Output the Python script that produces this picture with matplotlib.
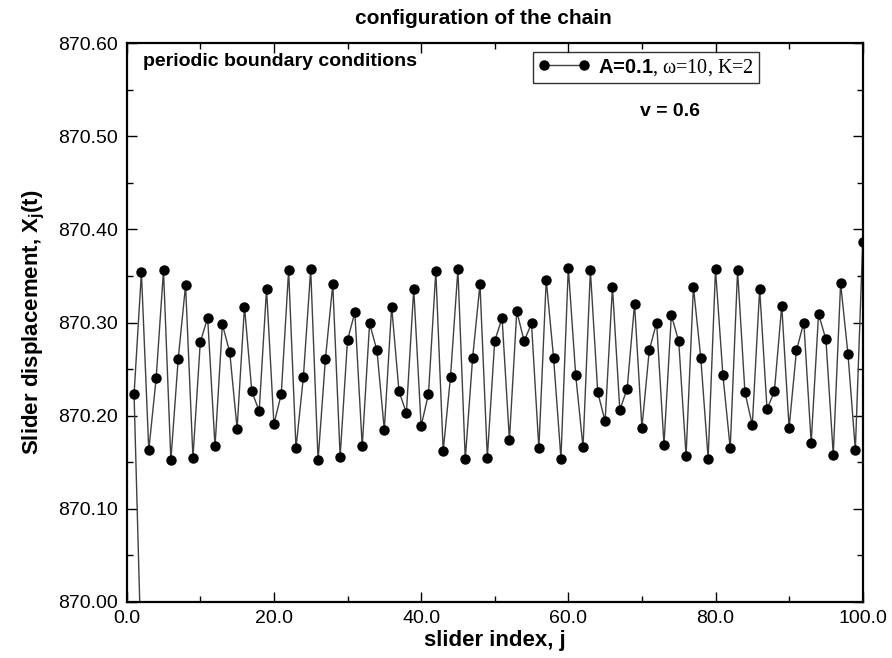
import numpy as np
import matplotlib
matplotlib.use('Agg')
import matplotlib.pyplot as plt
from matplotlib.ticker import MultipleLocator, FormatStrFormatter

plt.rcParams['font.family'] = ['Liberation Sans', 'DejaVu Sans']
plt.rcParams['mathtext.fontset'] = 'custom'
plt.rcParams['mathtext.bf'] = 'Liberation Sans:bold'
plt.rcParams['mathtext.rm'] = 'Liberation Sans:bold'

# slider displacement X_j(t), j = 1..100
slider_index = np.arange(1, 101)
displacement = [
    870.223, 870.354, 870.163, 870.240, 870.356, 870.152, 870.261, 870.340, 870.155, 870.279,
    870.305, 870.167, 870.298, 870.268, 870.186, 870.317, 870.226, 870.205, 870.336, 870.191,
    870.223, 870.356, 870.165, 870.241, 870.357, 870.152, 870.261, 870.341, 870.156, 870.281,
    870.311, 870.167, 870.299, 870.270, 870.185, 870.317, 870.226, 870.203, 870.336, 870.189,
    870.223, 870.355, 870.162, 870.242, 870.357, 870.153, 870.262, 870.341, 870.155, 870.280,
    870.305, 870.174, 870.312, 870.280, 870.299, 870.165, 870.346, 870.262, 870.154, 870.359,
    870.244, 870.166, 870.356, 870.225, 870.194, 870.338, 870.206, 870.229, 870.320, 870.187,
    870.270, 870.300, 870.169, 870.308, 870.280, 870.157, 870.338, 870.262, 870.154, 870.357,
    870.244, 870.165, 870.356, 870.225, 870.190, 870.336, 870.207, 870.226, 870.318, 870.187,
    870.270, 870.300, 870.171, 870.309, 870.282, 870.158, 870.342, 870.266, 870.163, 870.386,
]
# segment that leaves the frame at the left end (periodic wrap)
wrap_index = [1, 2]
wrap_disp = [870.223, 869.933]

legend_label = r'$\text{A=0.1}$, ω=10, K=2'

fig = plt.figure(figsize=(8.92, 6.58), dpi=100)
ax = fig.add_axes([126.7 / 892, 1 - 602 / 658, (862.7 - 126.7) / 892, (602 - 43) / 658])

ax.plot(wrap_index, wrap_disp, color='0.25', lw=1.0)
ax.plot(slider_index, displacement, color='0.25', lw=1.0, marker='o',
        markersize=6.5, markerfacecolor='black', markeredgecolor='black',
        label=legend_label)

ax.set_xlim(0, 100)
ax.set_ylim(870.0, 870.6)
ax.xaxis.set_major_locator(MultipleLocator(20))
ax.xaxis.set_minor_locator(MultipleLocator(10))
ax.yaxis.set_major_locator(MultipleLocator(0.1))
ax.yaxis.set_minor_locator(MultipleLocator(0.05))
ax.xaxis.set_major_formatter(FormatStrFormatter('%.1f'))
ax.yaxis.set_major_formatter(FormatStrFormatter('%.2f'))
ax.tick_params(which='both', direction='in', top=True, right=True, labelsize=14, width=1.0)
ax.tick_params(which='major', length=7, pad=6)
ax.tick_params(which='minor', length=4)
for s in ax.spines.values():
    s.set_linewidth(1.6)

ax.set_xlabel('slider index, j', fontsize=16, fontweight='bold', labelpad=2)
ax.set_ylabel(r'Slider displacement, X$_\mathrm{j}$(t)', fontsize=16, fontweight='bold', labelpad=8)
fig.text(483 / 892, 1 - 18 / 658, 'configuration of the chain', fontsize=15,
         fontweight='bold', ha='center', va='center')

ax.text(143 / 892, 1 - 61 / 658, 'periodic boundary conditions', transform=fig.transFigure,
        fontsize=14, fontweight='bold', ha='left', va='center')
ax.text(670 / 892, 1 - 112 / 658, 'v = 0.6', transform=fig.transFigure,
        fontsize=14, fontweight='bold', ha='center', va='center')

leg = ax.legend(loc='upper left', bbox_to_anchor=(532.7 / 892, 1 - 51.7 / 658),
                bbox_transform=fig.transFigure, borderaxespad=0, numpoints=2,
                handlelength=2.6, handletextpad=0.4, borderpad=0.25, fancybox=False,
                prop={'family': 'Liberation Serif', 'size': 14.5})
leg.get_frame().set_edgecolor('black')
leg.get_frame().set_linewidth(1.0)

fig.savefig('out.png', dpi=100)
